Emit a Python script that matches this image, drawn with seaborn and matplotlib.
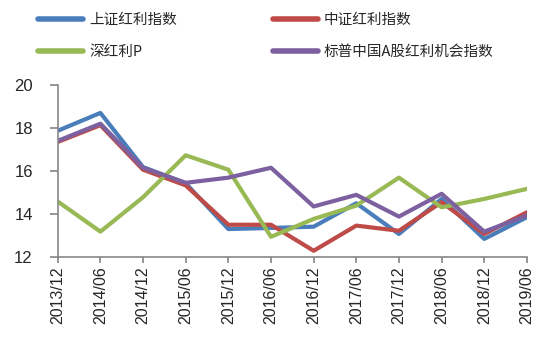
import matplotlib
matplotlib.use('Agg')
import matplotlib.pyplot as plt
import seaborn as sns
import pandas as pd

sns.set_theme(style='white')
plt.rcParams['font.family'] = ['Liberation Sans', 'Noto Sans CJK SC', 'DejaVu Sans']

# --- data ---
dates = ['2013/12', '2014/06', '2014/12', '2015/06', '2015/12', '2016/06',
         '2016/12', '2017/06', '2017/12', '2018/06', '2018/12', '2019/06']
sz_div = [17.87, 18.70, 16.18, 15.43, 13.30, 13.35, 13.41, 14.50, 13.07, 14.70, 12.84, 13.85]
csi_div = [17.35, 18.13, 16.06, 15.33, 13.50, 13.50, 12.29, 13.46, 13.22, 14.55, 13.07, 14.08]
szse_div = [14.58, 13.18, 14.78, 16.73, 16.06, 12.94, 13.77, 14.39, 15.69, 14.31, 14.70, 15.17]
sp_china = [17.40, 18.20, 16.15, 15.45, 15.69, 16.15, 14.35, 14.89, 13.88, 14.94, 13.18, 13.93]

names = ['上证红利指数', '中证红利指数', '深红利P', '标普中国A股红利机会指数']
colors = ['#4A7EBB', '#BE4B48', '#98B954', '#7D60A0']

rows = []
for name, vals in zip(names, [sz_div, csi_div, szse_div, sp_china]):
    for i, v in enumerate(vals):
        rows.append({'idx': i, 'value': v, 'series': name})
df = pd.DataFrame(rows)

fig = plt.figure(figsize=(5.5, 3.54), dpi=100)
ax = fig.add_axes([0.105, 0.274, 0.853, 0.486])

sns.lineplot(data=df, x='idx', y='value', hue='series', hue_order=names,
             palette=colors, linewidth=3, ax=ax, legend=False)

ax.set_xlim(0, len(dates) - 1)
ax.set_ylim(12, 20)
ax.set_yticks([12, 14, 16, 18, 20])
ax.set_xticks(range(len(dates)))
ax.set_xticklabels(dates, rotation=90, fontsize=11.5)
ax.tick_params(axis='y', labelsize=12, length=6, color='#888888', direction='out', left=True, pad=12)
ax.tick_params(axis='x', length=4, color='#888888', direction='out', bottom=True, pad=3)
ax.set_xlabel('')
ax.set_ylabel('')
for s in ['top', 'right']:
    ax.spines[s].set_visible(False)
for s in ['left', 'bottom']:
    ax.spines[s].set_color('#888888')
    ax.spines[s].set_linewidth(1.2)

# legend is filled column by column: reorder so rows read blue/red, green/purple
order = [0, 2, 1, 3]
handles = [plt.Line2D([], [], color=colors[i], linewidth=4, solid_capstyle='round') for i in order]
labels = [names[i] for i in order]
fig.legend(handles, labels, loc='upper left', bbox_to_anchor=(0.045, 1.0), ncol=2,
           frameon=False, handlelength=3.1, handletextpad=0.4,
           columnspacing=6.6, labelspacing=1.2, prop={'family': ['Noto Sans CJK SC'], 'size': 10.5})

fig.savefig('out.png', dpi=100)
